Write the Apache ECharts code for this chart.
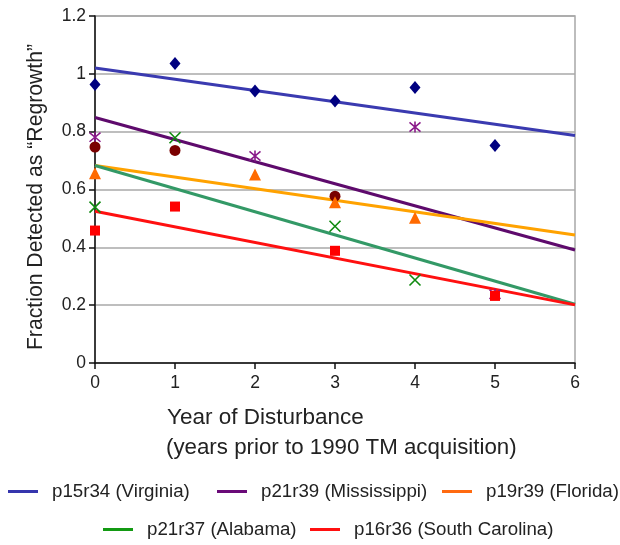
<!DOCTYPE html>
<html>
<head>
<meta charset="utf-8">
<script src="https://cdn.jsdelivr.net/npm/echarts@6/dist/echarts.min.js"></script>
<style>
html,body{margin:0;padding:0;background:#fff;}
#chart{width:620px;height:545px;}
</style>
</head>
<body>
<div id="chart"></div>
<script>
// ---- data ----
const xTicks = [0, 1, 2, 3, 4, 5, 6];
const legendNames = ['p15r34 (Virginia)', 'p21r39 (Mississippi)', 'p19r39 (Florida)', 'p21r37 (Alabama)', 'p16r36 (South Carolina)'];

// observed points [year, fraction]
const ptsVirginia    = [[0,0.963],[1,1.036],[2,0.941],[3,0.906],[4,0.953],[5,0.752]];
const ptsMississippi = [[0,0.781],[2,0.716],[4,0.816],[5,0.238]];
const ptsCircles     = [[0,0.747],[1,0.735],[3,0.577]];
const ptsFlorida     = [[0,0.656],[2,0.652],[3,0.556],[4,0.502]];
const ptsAlabama     = [[0,0.539],[1,0.779],[3,0.473],[4,0.287]];
const ptsSCarolina   = [[0,0.458],[1,0.541],[3,0.388],[5,0.232]];

// trend lines [year, fraction]
const trendVirginia    = [[0,1.020],[6,0.787]];
const trendMississippi = [[0,0.849],[6,0.391]];
const trendFlorida     = [[0,0.683],[6,0.443]];
const trendAlabama     = [[0,0.683],[6,0.203]];
const trendSCarolina   = [[0,0.525],[6,0.201]];

// ---- styles ----
const FONT = 'Liberation Sans, Arial, Helvetica, sans-serif';
const lineColors = ['#3a3ab0', '#5e0a6c', '#ffa200', '#339966', '#ff1010'];
const legendColors = ['#3535ad', '#6a0a78', '#ff6a10', '#139a13', '#ff1010'];
const X_PATH = 'path://M0,0L10,10M10,0L0,10';
const AST_PATH = 'path://M0,0L10,10M10,0L0,10M5,-1L5,11';

const chart = echarts.init(document.getElementById('chart'), null, {renderer: 'canvas'});

function trend(name, data, color) {
  return {
    name: name, type: 'line', data: data, showSymbol: false, symbol: 'none',
    lineStyle: {color: color, width: 3}, itemStyle: {color: color},
    z: 2, silent: true, animation: false
  };
}
function pts(name, data, symbol, size, color, stroke) {
  const s = {
    name: name, type: 'scatter', data: data, symbol: symbol, symbolSize: size,
    z: 3, silent: true, animation: false
  };
  if (stroke) {
    s.itemStyle = {color: 'rgba(0,0,0,0)', borderColor: color, borderWidth: 1.6, opacity: 1};
  } else {
    s.itemStyle = {color: color, opacity: 1};
  }
  return s;
}

const legendPos = [
  {left: 8, top: 482}, {left: 217, top: 482}, {left: 442, top: 482},
  {left: 103, top: 520}, {left: 310, top: 520}
];
const legends = legendNames.map((n, i) => ({
  data: [{name: n, itemStyle: {color: legendColors[i]}}],
  left: legendPos[i].left, top: legendPos[i].top, padding: 0,
  icon: 'rect', itemWidth: 30, itemHeight: 3, selectedMode: false,
  textStyle: {fontFamily: FONT, fontSize: 18.7, color: '#222', padding: [0, 0, 0, 9]}
}));

const option = {
  backgroundColor: '#fff',
  animation: false,
  legend: legends,
  grid: {left: 95, right: 45, top: 16, bottom: 182, show: true, borderColor: '#a8a8a8', borderWidth: 1.5, backgroundColor: 'transparent'},
  xAxis: {
    type: 'value', min: 0, max: 6, interval: 1,
    axisLine: {show: true, lineStyle: {color: '#111', width: 1.5}},
    axisTick: {show: true, length: 6, lineStyle: {color: '#111', width: 1.5}},
    axisLabel: {fontFamily: FONT, fontSize: 17.5, color: '#222', margin: 11,
      formatter: v => String(xTicks[Math.round(v)])},
    splitLine: {show: false}
  },
  yAxis: {
    type: 'value', min: 0, max: 1.2, interval: 0.2,
    axisLine: {show: true, lineStyle: {color: '#111', width: 1.5}},
    axisTick: {show: true, length: 6, lineStyle: {color: '#111', width: 1.5}},
    axisLabel: {fontFamily: FONT, fontSize: 17.5, color: '#222', margin: 9},
    splitLine: {show: true, lineStyle: {color: '#a8a8a8', width: 1.5}}
  },
  graphic: [
    {type: 'text', x: 36, y: 197, rotation: Math.PI / 2, silent: true,
      style: {text: 'Fraction Detected as \u201cRegrowth\u201d', font: '21.2px ' + FONT, fill: '#222', textAlign: 'center', textVerticalAlign: 'middle'}},
    {type: 'text', x: 167, y: 418, silent: true,
      style: {text: 'Year of Disturbance', font: '22.5px ' + FONT, fill: '#222', textAlign: 'left', textVerticalAlign: 'middle'}},
    {type: 'text', x: 166, y: 448, silent: true,
      style: {text: '(years prior to 1990 TM acquisition)', font: '22.3px ' + FONT, fill: '#222', textAlign: 'left', textVerticalAlign: 'middle'}}
  ],
  series: [
    trend(legendNames[0], trendVirginia, lineColors[0]),
    trend(legendNames[1], trendMississippi, lineColors[1]),
    trend(legendNames[2], trendFlorida, lineColors[2]),
    trend(legendNames[3], trendAlabama, lineColors[3]),
    trend(legendNames[4], trendSCarolina, lineColors[4]),
    pts('Virginia obs', ptsVirginia, 'diamond', [11, 13], '#000080', false),
    pts('Mississippi obs', ptsMississippi, AST_PATH, 11, '#8a1a8a', true),
    pts('circle obs', ptsCircles, 'circle', 11, '#7a0000', false),
    pts('Florida obs', ptsFlorida, 'triangle', [12, 12], '#ff6a00', false),
    pts('Alabama obs', ptsAlabama, X_PATH, 11, '#108a10', true),
    pts('South Carolina obs', ptsSCarolina, 'rect', 10, '#ff0000', false)
  ]
};
chart.setOption(option);
</script>
</body>
</html>
